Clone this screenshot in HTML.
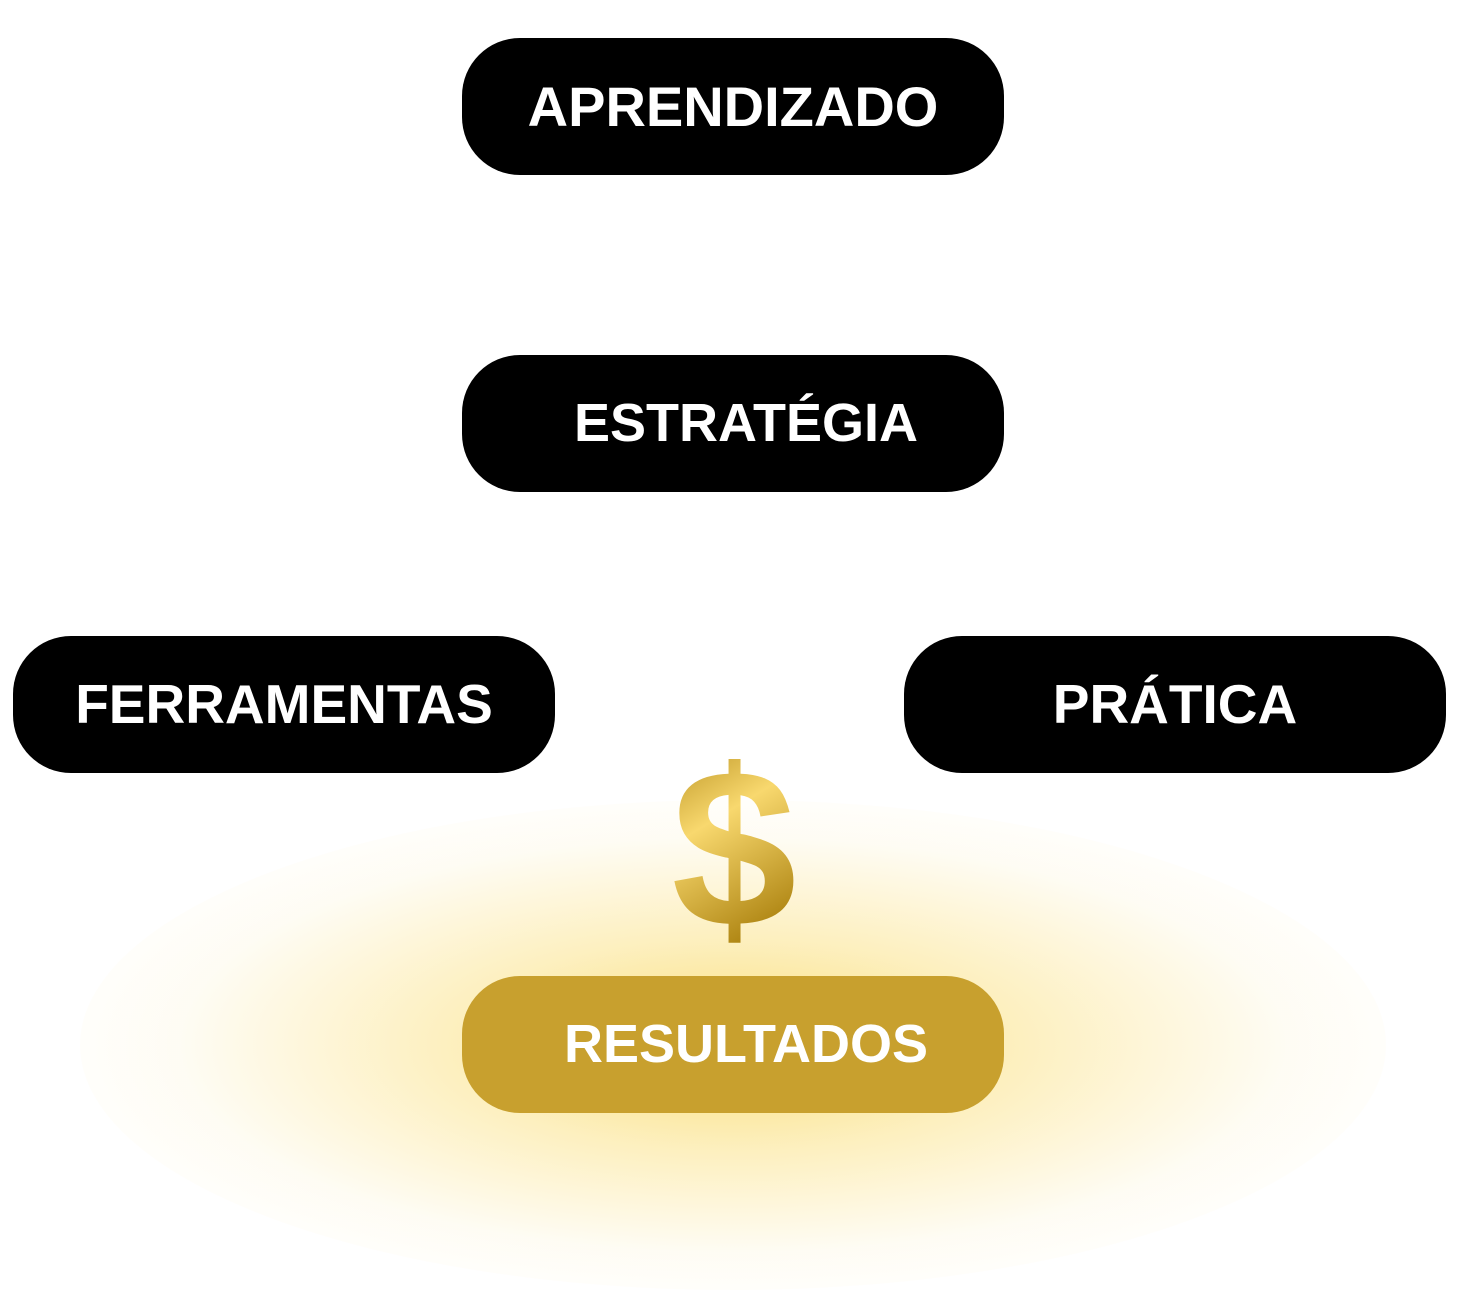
<!DOCTYPE html>
<html><head><meta charset="utf-8"><style>
html,body{margin:0;padding:0;background:#fff;}
body{width:1459px;height:1271px;position:relative;overflow:hidden;font-family:"Liberation Sans",sans-serif;}
.glow{position:absolute;left:80px;top:800px;width:1306px;height:490px;border-radius:50%;
background:radial-gradient(ellipse at center, rgba(250,214,90,0.8) 0%, rgba(250,220,110,0.45) 30%, rgba(252,236,180,0.15) 60%, rgba(255,255,255,0) 78%);}
.pill{position:absolute;width:542px;height:137px;border-radius:58px;background:#000;color:#fff;font-weight:bold;font-size:56px;line-height:137px;text-align:center;box-sizing:border-box;}
</style></head><body>
<div class="glow"></div>
<div class="pill" style="left:462px;top:38px;">APRENDIZADO</div>
<div class="pill" style="left:462px;top:355px;padding-left:26px;font-size:54px;">ESTRATÉGIA</div>
<div class="pill" style="left:13px;top:636px;font-size:55px;">FERRAMENTAS</div>
<div class="pill" style="left:904px;top:636px;font-size:55px;">PRÁTICA</div>
<div class="pill" style="left:462px;top:976px;background:#c8a02e;padding-left:26px;font-size:54px;">RESULTADOS</div>
<svg style="position:absolute;left:0;top:0" width="1459" height="1271">
<defs><linearGradient id="g" x1="0" y1="0" x2="0.3" y2="1">
<stop offset="0" stop-color="#a97f0c"/><stop offset="0.45" stop-color="#f8d86e"/><stop offset="1" stop-color="#a97f0c"/></linearGradient></defs>
<text x="734" y="926" text-anchor="middle" font-family="Liberation Sans" font-weight="bold" font-size="225" fill="url(#g)">$</text>
</svg>
</body></html>
